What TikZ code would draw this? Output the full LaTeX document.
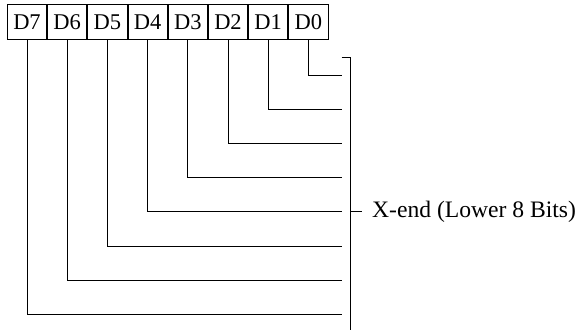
\documentclass[tikz,border=0pt]{standalone}
\usepackage{fontspec}
\setmainfont{Liberation Serif}
\usetikzlibrary{positioning}

\begin{document}
\begin{tikzpicture}[
        x=1pt, y=-1pt,
        node distance=0pt,
        bitcell/.style={rectangle, draw, line width=0.9pt, minimum width=39.3pt, minimum height=35pt, inner sep=0pt, font=\fontsize{22.5}{27}\selectfont},
        wire/.style={line width=0.9pt},
        caption/.style={font=\fontsize{23.6}{28}\selectfont, inner sep=0pt}
    ]
        \useasboundingbox (0,0) rectangle (579,330);

        % Register cells
        \node[bitcell] (d7) at (27,22) {D7};
        \node[bitcell, right=of d7] (d6) {D6};
        \node[bitcell, right=of d6] (d5) {D5};
        \node[bitcell, right=of d5] (d4) {D4};
        \node[bitcell, right=of d4] (d3) {D3};
        \node[bitcell, right=of d3] (d2) {D2};
        \node[bitcell, right=of d2] (d1) {D1};
        \node[bitcell, right=of d1] (d0) {D0};

        % Line ends at the bracket
        \coordinate (e0) at (341.7,75);
        \coordinate (e1) at (341.7,109);
        \coordinate (e2) at (341.7,143.3);
        \coordinate (e3) at (341.7,177.5);
        \coordinate (e4) at (341.7,211.7);
        \coordinate (e5) at (341.7,246);
        \coordinate (e6) at (341.7,280.3);
        \coordinate (e7) at (341.7,314.5);

        % Bracket
        \coordinate (btop) at (350.7,57.3);
        \coordinate (bmid) at (350.7,211.7);
        \coordinate (bbot) at (350.7,330);
        \coordinate (tick) at (362,211.7);
        \node[caption, anchor=west, right=10pt of tick] (xend) {X-end (Lower 8 Bits)};

        % Wires
        \draw[wire] (d0.south) |- (e0);
        \draw[wire] (d1.south) |- (e1);
        \draw[wire] (d2.south) |- (e2);
        \draw[wire] (d3.south) |- (e3);
        \draw[wire] (d4.south) |- (e4);
        \draw[wire] (d5.south) |- (e5);
        \draw[wire] (d6.south) |- (e6);
        \draw[wire] (d7.south) |- (e7);
        \draw[wire] ([xshift=-9pt]btop) -- (btop) -- (bbot);
        \draw[wire] (bmid) -- (tick);
    \end{tikzpicture}
\end{document}
